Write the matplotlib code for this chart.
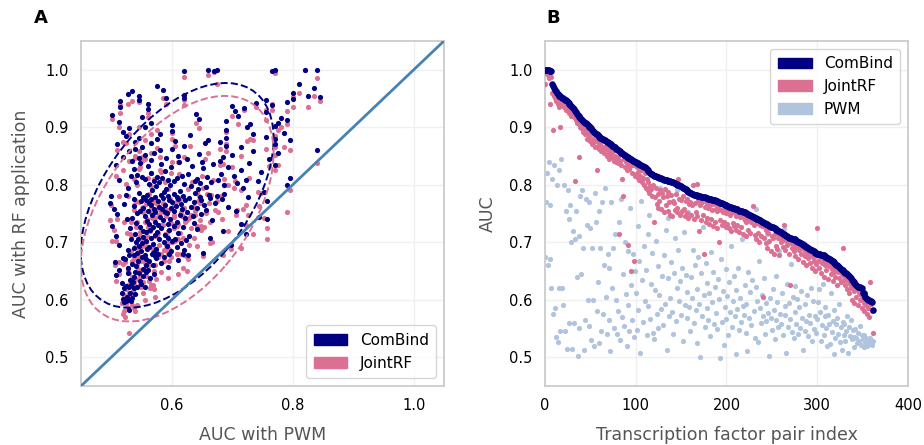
import numpy as np
import matplotlib
matplotlib.use("Agg")
import matplotlib.pyplot as plt
import matplotlib.transforms as transforms
from matplotlib.patches import Ellipse, Patch

# AUC per transcription factor pair, sorted by ComBind AUC (panel B order)
combind_auc = [
    1.000, 1.000, 1.000, 0.999, 0.999, 0.998, 0.998, 0.997, 0.975, 0.972,
    0.968, 0.965, 0.963, 0.960, 0.958, 0.956, 0.955, 0.954, 0.952, 0.951,
    0.950, 0.949, 0.948, 0.947, 0.946, 0.944, 0.942, 0.940, 0.939, 0.937,
    0.935, 0.933, 0.931, 0.928, 0.926, 0.923, 0.921, 0.919, 0.918, 0.916,
    0.914, 0.912, 0.911, 0.909, 0.908, 0.907, 0.905, 0.904, 0.902, 0.901,
    0.900, 0.898, 0.896, 0.894, 0.892, 0.890, 0.889, 0.888, 0.886, 0.884,
    0.883, 0.882, 0.881, 0.880, 0.879, 0.878, 0.877, 0.876, 0.875, 0.874,
    0.873, 0.872, 0.871, 0.870, 0.868, 0.867, 0.866, 0.865, 0.863, 0.862,
    0.861, 0.860, 0.859, 0.858, 0.856, 0.855, 0.853, 0.852, 0.851, 0.850,
    0.849, 0.848, 0.847, 0.846, 0.845, 0.844, 0.843, 0.842, 0.841, 0.840,
    0.839, 0.838, 0.837, 0.836, 0.836, 0.835, 0.834, 0.833, 0.833, 0.831,
    0.830, 0.829, 0.827, 0.826, 0.824, 0.822, 0.821, 0.819, 0.818, 0.817,
    0.816, 0.815, 0.815, 0.814, 0.813, 0.813, 0.812, 0.812, 0.811, 0.810,
    0.810, 0.809, 0.809, 0.808, 0.808, 0.807, 0.807, 0.806, 0.806, 0.805,
    0.805, 0.804, 0.803, 0.803, 0.802, 0.801, 0.800, 0.800, 0.799, 0.798,
    0.797, 0.796, 0.795, 0.794, 0.793, 0.792, 0.791, 0.789, 0.788, 0.787,
    0.786, 0.785, 0.784, 0.784, 0.783, 0.783, 0.782, 0.782, 0.781, 0.781,
    0.780, 0.780, 0.779, 0.779, 0.778, 0.778, 0.778, 0.777, 0.777, 0.777,
    0.776, 0.776, 0.775, 0.775, 0.774, 0.774, 0.773, 0.773, 0.772, 0.771,
    0.771, 0.770, 0.770, 0.769, 0.768, 0.768, 0.767, 0.766, 0.765, 0.764,
    0.764, 0.763, 0.763, 0.762, 0.761, 0.761, 0.760, 0.759, 0.759, 0.758,
    0.758, 0.757, 0.757, 0.756, 0.755, 0.755, 0.754, 0.754, 0.753, 0.752,
    0.752, 0.751, 0.750, 0.749, 0.749, 0.748, 0.747, 0.746, 0.745, 0.744,
    0.744, 0.743, 0.742, 0.741, 0.741, 0.740, 0.739, 0.738, 0.737, 0.736,
    0.735, 0.734, 0.733, 0.732, 0.732, 0.731, 0.730, 0.729, 0.728, 0.727,
    0.727, 0.726, 0.725, 0.724, 0.723, 0.722, 0.721, 0.720, 0.719, 0.718,
    0.717, 0.716, 0.715, 0.714, 0.713, 0.712, 0.711, 0.710, 0.709, 0.708,
    0.707, 0.707, 0.706, 0.706, 0.705, 0.705, 0.704, 0.703, 0.702, 0.701,
    0.700, 0.699, 0.698, 0.697, 0.696, 0.695, 0.694, 0.693, 0.692, 0.691,
    0.690, 0.689, 0.688, 0.687, 0.686, 0.685, 0.684, 0.683, 0.682, 0.681,
    0.680, 0.680, 0.679, 0.679, 0.678, 0.678, 0.677, 0.677, 0.676, 0.675,
    0.674, 0.673, 0.672, 0.671, 0.670, 0.669, 0.668, 0.667, 0.666, 0.664,
    0.663, 0.661, 0.660, 0.658, 0.657, 0.655, 0.654, 0.652, 0.651, 0.649,
    0.648, 0.647, 0.646, 0.645, 0.643, 0.641, 0.639, 0.637, 0.635, 0.633,
    0.631, 0.629, 0.627, 0.625, 0.624, 0.623, 0.623, 0.622, 0.621, 0.620,
    0.612, 0.611, 0.610, 0.605, 0.603, 0.601, 0.600, 0.599, 0.598, 0.597,
    0.596, 0.583,
]

jointrf_auc = [
    0.975, 0.995, 0.999, 0.990, 0.985, 0.996, 0.940, 0.988, 0.960, 0.895,
    0.955, 0.950, 0.945, 0.952, 0.941, 0.948, 0.935, 0.900, 0.945, 0.938,
    0.940, 0.935, 0.944, 0.930, 0.938, 0.928, 0.936, 0.925, 0.930, 0.920,
    0.925, 0.930, 0.918, 0.806, 0.912, 0.908, 0.915, 0.905, 0.848, 0.900,
    0.898, 0.905, 0.892, 0.900, 0.888, 0.895, 0.880, 0.890, 0.885, 0.878,
    0.876, 0.888, 0.870, 0.880, 0.874, 0.866, 0.878, 0.826, 0.868, 0.872,
    0.862, 0.870, 0.858, 0.866, 0.864, 0.855, 0.860, 0.868, 0.850, 0.862,
    0.855, 0.845, 0.860, 0.852, 0.848, 0.858, 0.842, 0.850, 0.840, 0.846,
    0.838, 0.848, 0.715, 0.842, 0.835, 0.810, 0.780, 0.845, 0.830, 0.840,
    0.825, 0.836, 0.695, 0.828, 0.832, 0.650, 0.820, 0.834, 0.668, 0.815,
    0.818, 0.830, 0.812, 0.822, 0.808, 0.815, 0.826, 0.805, 0.812, 0.800,
    0.820, 0.795, 0.810, 0.790, 0.804, 0.785, 0.798, 0.792, 0.780, 0.800,
    0.735, 0.778, 0.795, 0.766, 0.784, 0.760, 0.772, 0.790, 0.758, 0.786,
    0.778, 0.752, 0.792, 0.764, 0.780, 0.755, 0.788, 0.770, 0.748, 0.782,
    0.745, 0.772, 0.768, 0.756, 0.784, 0.760, 0.752, 0.810, 0.776, 0.748,
    0.774, 0.754, 0.780, 0.758, 0.746, 0.772, 0.750, 0.776, 0.742, 0.766,
    0.770, 0.748, 0.764, 0.800, 0.740, 0.768, 0.752, 0.802, 0.745, 0.772,
    0.720, 0.765, 0.738, 0.770, 0.748, 0.680, 0.762, 0.735, 0.768, 0.742,
    0.760, 0.732, 0.764, 0.740, 0.756, 0.728, 0.766, 0.736, 0.758, 0.725,
    0.754, 0.762, 0.700, 0.738, 0.756, 0.730, 0.752, 0.735, 0.758, 0.726,
    0.750, 0.732, 0.756, 0.725, 0.748, 0.720, 0.752, 0.734, 0.728, 0.750,
    0.722, 0.746, 0.730, 0.750, 0.718, 0.744, 0.726, 0.748, 0.715, 0.742,
    0.738, 0.736, 0.710, 0.740, 0.722, 0.742, 0.716, 0.736, 0.745, 0.763,
    0.730, 0.712, 0.738, 0.706, 0.734, 0.716, 0.700, 0.730, 0.710, 0.728,
    0.605, 0.708, 0.726, 0.698, 0.722, 0.690, 0.716, 0.702, 0.724, 0.685,
    0.710, 0.708, 0.680, 0.714, 0.694, 0.720, 0.688, 0.708, 0.678, 0.712,
    0.700, 0.706, 0.692, 0.730, 0.710, 0.686, 0.702, 0.696, 0.706, 0.680,
    0.626, 0.698, 0.690, 0.702, 0.684, 0.696, 0.676, 0.692, 0.700, 0.670,
    0.686, 0.694, 0.680, 0.690, 0.666, 0.688, 0.676, 0.684, 0.660, 0.680,
    0.672, 0.684, 0.664, 0.678, 0.655, 0.674, 0.668, 0.650, 0.676, 0.662,
    0.725, 0.668, 0.656, 0.674, 0.646, 0.664, 0.670, 0.640, 0.660, 0.668,
    0.652, 0.662, 0.636, 0.658, 0.666, 0.645, 0.654, 0.632, 0.660, 0.648,
    0.640, 0.656, 0.626, 0.648, 0.638, 0.652, 0.630, 0.644, 0.690, 0.635,
    0.642, 0.625, 0.638, 0.618, 0.632, 0.612, 0.628, 0.620, 0.600, 0.625,
    0.615, 0.595, 0.622, 0.605, 0.618, 0.590, 0.612, 0.600, 0.608, 0.585,
    0.602, 0.595, 0.580, 0.598, 0.590, 0.575, 0.586, 0.570, 0.630, 0.592,
    0.580, 0.542,
]

pwm_auc = [
    0.675, 0.770, 0.820, 0.660, 0.840, 0.670, 0.765, 0.620, 0.810, 0.575,
    0.835, 0.585, 0.535, 0.800, 0.527, 0.620, 0.825, 0.545, 0.845, 0.620,
    0.590, 0.800, 0.545, 0.755, 0.515, 0.790, 0.740, 0.560, 0.765, 0.700,
    0.515, 0.720, 0.560, 0.705, 0.755, 0.640, 0.502, 0.710, 0.550, 0.780,
    0.645, 0.790, 0.690, 0.513, 0.565, 0.775, 0.730, 0.600, 0.770, 0.555,
    0.725, 0.530, 0.690, 0.600, 0.520, 0.785, 0.735, 0.580, 0.630, 0.525,
    0.755, 0.690, 0.545, 0.770, 0.575, 0.660, 0.795, 0.605, 0.540, 0.680,
    0.565, 0.655, 0.510, 0.770, 0.620, 0.690, 0.550, 0.715, 0.600, 0.540,
    0.840, 0.580, 0.735, 0.530, 0.775, 0.570, 0.645, 0.555, 0.700, 0.610,
    0.520, 0.685, 0.590, 0.545, 0.760, 0.625, 0.565, 0.680, 0.535, 0.650,
    0.612, 0.547, 0.728, 0.583, 0.668, 0.507, 0.771, 0.634, 0.561, 0.693,
    0.598, 0.652, 0.538, 0.714, 0.589, 0.748, 0.566, 0.627, 0.681, 0.543,
    0.532, 0.617, 0.703, 0.576, 0.659, 0.551, 0.608, 0.795, 0.584, 0.642,
    0.556, 0.677, 0.593, 0.722, 0.512, 0.638, 0.742, 0.571, 0.603, 0.665,
    0.579, 0.541, 0.647, 0.708, 0.563, 0.621, 0.790, 0.686, 0.597, 0.632,
    0.574, 0.656, 0.528, 0.718, 0.591, 0.643, 0.568, 0.614, 0.752, 0.587,
    0.546, 0.639, 0.603, 0.687, 0.559, 0.661, 0.582, 0.524, 0.618, 0.674,
    0.593, 0.500, 0.646, 0.572, 0.726, 0.608, 0.553, 0.664, 0.586, 0.629,
    0.565, 0.611, 0.537, 0.683, 0.596, 0.648, 0.558, 0.622, 0.577, 0.757,
    0.549, 0.636, 0.601, 0.498, 0.671, 0.562, 0.615, 0.521, 0.588, 0.654,
    0.566, 0.607, 0.538, 0.631, 0.579, 0.693, 0.552, 0.598, 0.642, 0.571,
    0.505, 0.617, 0.584, 0.656, 0.547, 0.603, 0.561, 0.706, 0.589, 0.573,
    0.626, 0.543, 0.592, 0.510, 0.648, 0.568, 0.613, 0.556, 0.635, 0.745,
    0.581, 0.534, 0.622, 0.757, 0.597, 0.526, 0.667, 0.586, 0.559, 0.609,
    0.572, 0.637, 0.541, 0.594, 0.563, 0.714, 0.577, 0.502, 0.603, 0.569,
    0.548, 0.618, 0.582, 0.531, 0.641, 0.564, 0.596, 0.553, 0.684, 0.575,
    0.557, 0.611, 0.539, 0.723, 0.573, 0.589, 0.508, 0.628, 0.552, 0.594,
    0.566, 0.663, 0.544, 0.605, 0.533, 0.579, 0.624, 0.558, 0.601, 0.541,
    0.587, 0.551, 0.616, 0.569, 0.512, 0.698, 0.546, 0.592, 0.563, 0.609,
    0.537, 0.574, 0.559, 0.621, 0.528, 0.598, 0.549, 0.571, 0.652, 0.543,
    0.567, 0.596, 0.618, 0.578, 0.529, 0.556, 0.627, 0.538, 0.572, 0.587,
    0.551, 0.519, 0.574, 0.557, 0.523, 0.611, 0.544, 0.563, 0.506, 0.582,
    0.534, 0.558, 0.569, 0.541, 0.593, 0.527, 0.552, 0.513, 0.561, 0.539,
    0.557, 0.528, 0.546, 0.571, 0.507, 0.553, 0.537, 0.564, 0.531, 0.548,
    0.536, 0.518, 0.549, 0.533, 0.524, 0.542, 0.529, 0.555, 0.521, 0.538,
    0.531, 0.517, 0.539, 0.526, 0.534, 0.519, 0.528, 0.523, 0.533, 0.525,
    0.521, 0.529,
]

series_names = ["ComBind", "JointRF", "PWM"]
colors = {"ComBind": "#000080", "JointRF": "#db7093", "PWM": "#b0c4de"}


def confidence_ellipse(x, y, ax, n_std=2.0, **kwargs):
    """Draw the n_std covariance ellipse of x and y."""
    cov = np.cov(x, y)
    pearson = cov[0, 1] / np.sqrt(cov[0, 0] * cov[1, 1])
    rx = np.sqrt(1 + pearson)
    ry = np.sqrt(1 - pearson)
    ell = Ellipse((0, 0), width=rx * 2, height=ry * 2, facecolor="none", **kwargs)
    sx = np.sqrt(cov[0, 0]) * n_std
    sy = np.sqrt(cov[1, 1]) * n_std
    tr = (transforms.Affine2D().rotate_deg(45).scale(sx, sy)
          .translate(np.mean(x), np.mean(y)))
    ell.set_transform(tr + ax.transData)
    return ax.add_patch(ell)


def style_axes(ax):
    ax.set_facecolor("white")
    for sp in ax.spines.values():
        sp.set_color("#cccccc")
        sp.set_linewidth(1.3)
    ax.grid(True, color="#f0f0f0", linewidth=1.0)
    ax.set_axisbelow(True)
    ax.tick_params(length=0, pad=9, labelsize=10.5, colors="black")


cb = np.array(combind_auc)
jr = np.array(jointrf_auc)
pw = np.array(pwm_auc)
idx = np.arange(len(cb))

fig = plt.figure(figsize=(9.24, 4.45), dpi=100)
ax1 = fig.add_axes([0.0877, 0.1326, 0.3928, 0.7753])
ax2 = fig.add_axes([0.5898, 0.1326, 0.3929, 0.7753])

label_kw = dict(fontsize=12.5, color="#555555")

# Panel A: RF applications against PWM
style_axes(ax1)
ax1.scatter(pw, jr, s=14, color=colors["JointRF"], linewidths=0, zorder=2)
ax1.scatter(pw, cb, s=14, color=colors["ComBind"], linewidths=0, zorder=3)
confidence_ellipse(pw, cb, ax1, edgecolor=colors["ComBind"], linestyle="--",
                   linewidth=1.4, zorder=4)
confidence_ellipse(pw, jr, ax1, edgecolor=colors["JointRF"], linestyle="--",
                   linewidth=1.4, zorder=4)
ax1.plot([0.45, 1.05], [0.45, 1.05], color="#4682b4", linewidth=2, zorder=5)
ax1.set_xlim(0.45, 1.05)
ax1.set_ylim(0.45, 1.05)
ax1.set_xticks([0.6, 0.8, 1.0])
ax1.set_yticks([0.5, 0.6, 0.7, 0.8, 0.9, 1.0])
ax1.set_xlabel("AUC with PWM", labelpad=9, **label_kw)
ax1.set_ylabel("AUC with RF application", labelpad=11, **label_kw)
ax1.legend(handles=[Patch(color=colors[n], label=n) for n in series_names[:2]],
           loc="lower right", fontsize=11, frameon=True, edgecolor="#cccccc",
           borderpad=0.5, handlelength=2.2)
ax1.text(-0.13, 1.067, "A", transform=ax1.transAxes, fontsize=13,
         fontweight="bold", va="center", ha="left")

# Panel B: AUC per transcription factor pair
style_axes(ax2)
ax2.scatter(idx, pw, s=14, color=colors["PWM"], linewidths=0, zorder=2)
ax2.scatter(idx, jr, s=14, color=colors["JointRF"], linewidths=0, zorder=3)
ax2.scatter(idx, cb, s=22, color=colors["ComBind"], linewidths=0, zorder=4)
ax2.set_xlim(0, 400)
ax2.set_ylim(0.45, 1.05)
ax2.set_xticks([0, 100, 200, 300, 400])
ax2.set_yticks([0.5, 0.6, 0.7, 0.8, 0.9, 1.0])
ax2.set_xlabel("Transcription factor pair index", labelpad=9, **label_kw)
ax2.set_ylabel("AUC", labelpad=9, **label_kw)
ax2.legend(handles=[Patch(color=colors[n], label=n) for n in series_names],
           loc="upper right", fontsize=11, frameon=True, edgecolor="#cccccc",
           borderpad=0.5, handlelength=2.2)
ax2.text(0.005, 1.067, "B", transform=ax2.transAxes, fontsize=13,
         fontweight="bold", va="center", ha="left")

fig.savefig("out.png", dpi=100, facecolor="white")
